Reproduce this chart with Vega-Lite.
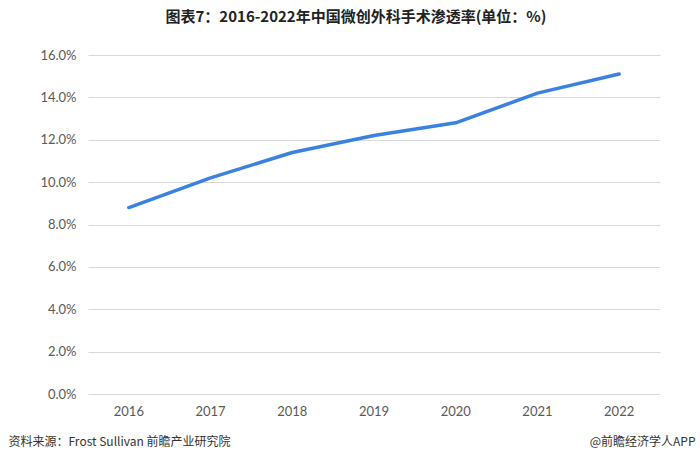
{
  "$schema": "https://vega.github.io/schema/vega-lite/v6.json",
  "width": 572,
  "height": 339,
  "autosize": "none",
  "padding": {"left": 88, "top": 55, "right": 40, "bottom": 70},
  "background": "white",
  "title": {
    "text": "图表7：2016-2022年中国微创外科手术渗透率(单位：%)",
    "font": "Noto Sans CJK SC",
    "fontSize": 15,
    "fontWeight": "bold",
    "color": "#222222",
    "anchor": "middle",
    "frame": "group",
    "dx": -18,
    "offset": 24
  },
  "data": {
    "values": [
      {"year": "2016", "rate": 8.8},
      {"year": "2017", "rate": 10.2},
      {"year": "2018", "rate": 11.4},
      {"year": "2019", "rate": 12.2},
      {"year": "2020", "rate": 12.8},
      {"year": "2021", "rate": 14.2},
      {"year": "2022", "rate": 15.1}
    ]
  },
  "mark": {"type": "line", "color": "#3b82e0", "strokeWidth": 3.5, "strokeCap": "round", "strokeJoin": "round"},
  "encoding": {
    "x": {
      "field": "year",
      "type": "ordinal",
      "scale": {"type": "band", "paddingInner": 0, "paddingOuter": 0},
      "axis": {
        "title": "资料来源：Frost Sullivan 前瞻产业研究院",
        "titleFont": "Noto Sans CJK SC",
        "titleFontSize": 12,
        "titleFontWeight": "normal",
        "titleColor": "#333333",
        "titleAnchor": "start",
        "titleAlign": "left",
        "titleBaseline": "middle",
        "titleX": -80,
        "titleY": 47,
        "labelAngle": 0,
        "labelFont": "Lato",
        "labelFontSize": 13,
        "labelColor": "#595959",
        "labelPadding": 11,
        "domain": false,
        "ticks": false,
        "grid": false
      }
    },
    "y": {
      "field": "rate",
      "type": "quantitative",
      "scale": {"domain": [0, 16], "nice": false},
      "axis": {
        "values": [0, 2, 4, 6, 8, 10, 12, 14, 16],
        "labelExpr": "format(datum.value, '.1f') + '%'",
        "labelFont": "Lato",
        "labelFontSize": 13,
        "labelColor": "#595959",
        "labelPadding": 12,
        "domain": false,
        "ticks": false,
        "grid": true,
        "gridColor": "#d9d9d9",
        "gridWidth": 1,
        "title": "@前瞻经济学人APP",
        "titleFont": "Noto Sans CJK SC",
        "titleFontSize": 12,
        "titleFontWeight": "normal",
        "titleColor": "#333333",
        "titleAngle": 0,
        "titleAlign": "right",
        "titleBaseline": "middle",
        "titleX": 607,
        "titleY": 386
      }
    }
  },
  "config": {"view": {"stroke": null}}
}
